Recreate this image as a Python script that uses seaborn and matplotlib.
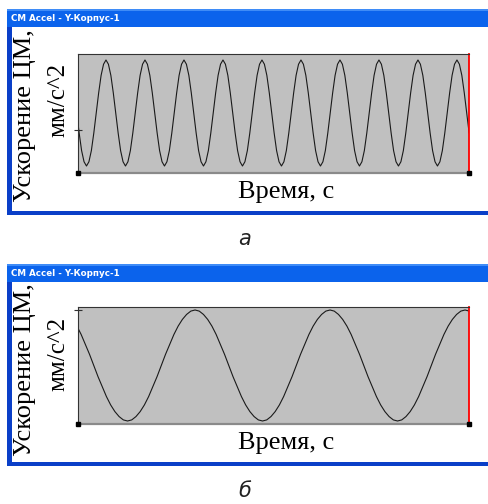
import numpy as np
import matplotlib
matplotlib.use("Agg")
import matplotlib.pyplot as plt
from matplotlib.patches import Rectangle
import seaborn as sns

# Панель а: ускорение ЦМ, отсчёты через 0.05 с
step_a = 0.05
acc_a = [
    0, -0.38, -0.71, -0.92, -1, -0.92, -0.71, -0.38, 0, 0.38, 0.71, 0.92, 1, 0.92, 0.71, 0.38,
    0, -0.38, -0.71, -0.92, -1, -0.92, -0.71, -0.38, 0, 0.38, 0.71, 0.92, 1, 0.92, 0.71, 0.38,
    0, -0.38, -0.71, -0.92, -1, -0.92, -0.71, -0.38, 0, 0.38, 0.71, 0.92, 1, 0.92, 0.71, 0.38,
    0, -0.38, -0.71, -0.92, -1, -0.92, -0.71, -0.38, 0, 0.38, 0.71, 0.92, 1, 0.92, 0.71, 0.38,
    0, -0.38, -0.71, -0.92, -1, -0.92, -0.71, -0.38, 0, 0.38, 0.71, 0.92, 1, 0.92, 0.71, 0.38,
    0, -0.38, -0.71, -0.92, -1, -0.92, -0.71, -0.38, 0, 0.38, 0.71, 0.92, 1, 0.92, 0.71, 0.38,
    0, -0.38, -0.71, -0.92, -1, -0.92, -0.71, -0.38, 0, 0.38, 0.71, 0.92, 1, 0.92, 0.71, 0.38,
    0, -0.38, -0.71, -0.92, -1, -0.92, -0.71, -0.38, 0, 0.38, 0.71, 0.92, 1, 0.92, 0.71, 0.38,
    0, -0.38, -0.71, -0.92, -1, -0.92, -0.71, -0.38, 0, 0.38, 0.71, 0.92, 1, 0.92, 0.71, 0.38,
    0, -0.38, -0.71, -0.92, -1, -0.92, -0.71, -0.38, 0, 0.38, 0.71, 0.92, 1, 0.92, 0.71, 0.38,
    0, -0.38,
]
xlim_a = (0.026, 8.047)
ylim_a = (-1.132, 1.113)
ytick_a = [-0.32]

# Панель б: отсчёты через 0.05 с
step_b = 0.05
acc_b = [
    0.71, 0.56, 0.38, 0.20, 0, -0.20, -0.38, -0.56, -0.71, -0.83, -0.92, -0.98, -1, -0.98, -0.92, -0.83,
    -0.71, -0.56, -0.38, -0.20, 0, 0.20, 0.38, 0.56, 0.71, 0.83, 0.92, 0.98, 1, 0.98, 0.92, 0.83,
    0.71, 0.56, 0.38, 0.20, 0, -0.20, -0.38, -0.56, -0.71, -0.83, -0.92, -0.98, -1, -0.98, -0.92, -0.83,
    -0.71, -0.56, -0.38, -0.20, 0, 0.20, 0.38, 0.56, 0.71, 0.83, 0.92, 0.98, 1, 0.98, 0.92, 0.83,
    0.71, 0.56, 0.38, 0.20, 0, -0.20, -0.38, -0.56, -0.71, -0.83, -0.92, -0.98, -1, -0.98, -0.92, -0.83,
    -0.71, -0.56, -0.38, -0.20, 0, 0.20, 0.38, 0.56, 0.71, 0.83, 0.92, 0.98, 1, 0.98,
]
xlim_b = (0.013, 4.647)
ylim_b = (-1.054, 1.054)
ytick_b = [1.0]

title_txt = "CM Accel - Y-Корпус-1"
ylab1 = "Ускорение ЦМ,"
ylab2 = "мм/с^2"
xlab = "Время, с"

W, H = 489, 504
sns.set_theme(style="white")
plt.rcParams["font.family"] = ["DejaVu Sans"]

fig = plt.figure(figsize=(W / 100, H / 100), dpi=100)
fig.patch.set_facecolor("white")


def fy(px):
    return 1 - px / H


def okno(top, bottom):
    # синяя рамка окна, заголовок и белое поле
    fig.add_artist(Rectangle((7 / W, fy(bottom)), (W - 7) / W, (bottom - top) / H,
                             transform=fig.transFigure, facecolor="#0A3FC8",
                             edgecolor="none", zorder=-3))
    fig.add_artist(Rectangle((7 / W, fy(top + 18)), (W - 7) / W, 18 / H,
                             transform=fig.transFigure, facecolor="#0B63EC",
                             edgecolor="none", zorder=-2))
    fig.add_artist(Rectangle((7 / W, fy(top + 2)), (W - 7) / W, 2 / H,
                             transform=fig.transFigure, facecolor="#3F8CF7",
                             edgecolor="none", zorder=-2))
    fig.add_artist(Rectangle((12 / W, fy(bottom - 4)), (W - 12) / W, (bottom - 4 - top - 18) / H,
                             transform=fig.transFigure, facecolor="white",
                             edgecolor="none", zorder=-1))
    fig.text(11 / W, fy(top + 9.5), title_txt, color="white", fontsize=6.3,
             fontweight="bold", ha="left", va="center")


def panel(top, bottom, step, acc, xlim, ylim, yt):
    ax = fig.add_axes([78 / W, fy(bottom), 391 / W, (bottom - top) / H])
    t = np.arange(len(acc)) * step
    sns.lineplot(x=t, y=acc, ax=ax, color="#1a1a1a", linewidth=0.8)
    ax.set_facecolor("#C0C0C0")
    ax.set_xlim(*xlim)
    ax.set_ylim(*ylim)
    ax.set_xticks([])
    ax.set_yticks(yt)
    ax.set_yticklabels([])
    ax.tick_params(axis="y", direction="inout", length=6, width=0.8,
                   color="#303030", left=True)
    ax.set_xlabel("")
    ax.set_ylabel("")
    for s in ["top", "left"]:
        ax.spines[s].set_color("#333333")
        ax.spines[s].set_linewidth(0.8)
    ax.spines["bottom"].set_color("#8a8a8a")
    ax.spines["bottom"].set_linewidth(1.6)
    ax.spines["right"].set_color("#FF0000")
    ax.spines["right"].set_linewidth(1.3)
    ax.plot([xlim[0], xlim[1]], [ylim[0], ylim[0]], ls="none", marker="s",
            markersize=3, color="black", clip_on=False, zorder=5)
    return ax


serif = ["Liberation Serif", "DejaVu Serif"]

# окно а
okno(9, 215)
panel(54, 173, step_a, acc_a, xlim_a, ylim_a, ytick_a)
fig.text(25 / W, fy(116), ylab1, rotation=90, fontsize=19, family=serif,
         ha="center", va="center", color="black")
fig.text(58 / W, fy(100), ylab2, rotation=90, fontsize=18, family=serif,
         ha="center", va="center", color="black")
fig.text(286 / W, fy(192), xlab, fontsize=19, family=serif,
         ha="center", va="center", color="black")
fig.text(245 / W, fy(239), "а", fontsize=15, style="italic",
         ha="center", va="center", color="#222222")

# окно б
okno(264, 466)
panel(307, 424, step_b, acc_b, xlim_b, ylim_b, ytick_b)
fig.text(25 / W, fy(370), ylab1, rotation=90, fontsize=19, family=serif,
         ha="center", va="center", color="black")
fig.text(58 / W, fy(354), ylab2, rotation=90, fontsize=18, family=serif,
         ha="center", va="center", color="black")
fig.text(286 / W, fy(443), xlab, fontsize=19, family=serif,
         ha="center", va="center", color="black")
fig.text(245 / W, fy(491), "б", fontsize=15, style="italic",
         ha="center", va="center", color="#222222")

fig.savefig("out.png", dpi=100)
